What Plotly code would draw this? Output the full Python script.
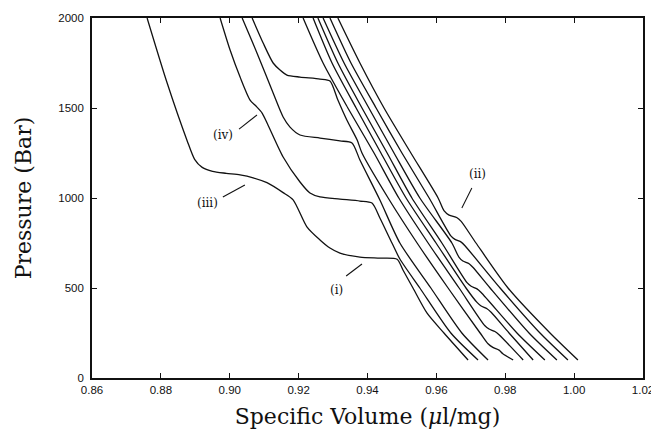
import plotly.graph_objects as go

# ---- data: isotherms, specific volume (ul/mg) vs pressure (bar) ----
v_c1 = [0.8760, 0.8818, 0.8876, 0.8898, 0.8920, 0.8950, 0.8990, 0.9030, 0.9068, 0.9108, 0.9155, 0.9184,
        0.9224, 0.9262, 0.9291, 0.9320, 0.9378, 0.9436, 0.9486, 0.9503, 0.9532, 0.9573, 0.9622, 0.9692]
p_c1 = [2000, 1640, 1320, 1215, 1170, 1148, 1137, 1128, 1112, 1085, 1030, 990,
        840, 767, 722, 694, 672, 666, 660, 600, 500, 360, 250, 100]

v_c2 = [0.8972, 0.9001, 0.9030, 0.9059, 0.9076, 0.9094, 0.9111, 0.9155, 0.9204, 0.9233, 0.9262,
        0.9320, 0.9378, 0.9413, 0.9436, 0.9471, 0.9494, 0.9552, 0.9642, 0.9721]
p_c2 = [2000, 1822, 1672, 1544, 1511, 1472, 1406, 1228, 1089, 1028, 1006,
        994, 983, 972, 889, 750, 661, 500, 250, 100]

v_c3 = [0.9036, 0.9079, 0.9126, 0.9155, 0.9175, 0.9204, 0.9262, 0.9320, 0.9355, 0.9378, 0.9436,
        0.9494, 0.9584, 0.9674, 0.9750]
p_c3 = [2000, 1806, 1583, 1450, 1394, 1350, 1333, 1317, 1306, 1211, 989,
        750, 500, 250, 100]

v_c4 = [0.9065, 0.9097, 0.9126, 0.9146, 0.9166, 0.9204, 0.9262, 0.9291, 0.9314, 0.9340, 0.9370,
        0.9384, 0.9460, 0.9544, 0.9634, 0.9727, 0.9750, 0.9764, 0.9782, 0.9793, 0.9823]
p_c4 = [2000, 1861, 1750, 1711, 1683, 1672, 1661, 1650, 1544, 1433, 1322,
        1250, 1000, 750, 500, 250, 190, 170, 155, 135, 100]

v_c5 = [0.9213, 0.9271, 0.9343, 0.9419, 0.9491, 0.9576, 0.9666, 0.9741, 0.9753, 0.9770, 0.9782, 0.9852]
p_c5 = [2000, 1750, 1500, 1250, 1000, 750, 500, 290, 272, 258, 240, 100]

v_c6 = [0.9242, 0.9297, 0.9367, 0.9439, 0.9512, 0.9599, 0.9686, 0.9718, 0.9730, 0.9747, 0.9759, 0.9811, 0.9881]
p_c6 = [2000, 1750, 1500, 1250, 1000, 750, 500, 420, 400, 385, 365, 250, 100]

v_c7 = [0.9256, 0.9314, 0.9384, 0.9457, 0.9529, 0.9616, 0.9689, 0.9701, 0.9718, 0.9730, 0.9834, 0.9915]
p_c7 = [2000, 1750, 1500, 1250, 1000, 750, 530, 510, 495, 475, 250, 100]

v_c8 = [0.9271, 0.9332, 0.9404, 0.9477, 0.9552, 0.9645, 0.9666, 0.9677, 0.9695, 0.9706, 0.9756, 0.9869, 0.9950]
p_c8 = [2000, 1750, 1500, 1250, 1000, 750, 670, 650, 635, 615, 500, 250, 100]

v_c9 = [0.9291, 0.9352, 0.9425, 0.9500, 0.9579, 0.9642, 0.9654, 0.9672, 0.9683, 0.9785, 0.9901, 0.9982]
p_c9 = [2000, 1750, 1500, 1250, 1000, 790, 770, 755, 735, 500, 250, 100]

v_c10 = [0.9314, 0.9378, 0.9448, 0.9526, 0.9605, 0.9622, 0.9637, 0.9660, 0.9672, 0.9715, 0.9808, 0.9930, 1.0011]
p_c10 = [2000, 1750, 1500, 1250, 1000, 930, 905, 890, 870, 750, 500, 250, 100]

x_ticks = [0.86, 0.88, 0.90, 0.92, 0.94, 0.96, 0.98, 1.00, 1.02]
y_ticks = [0, 500, 1000, 1500, 2000]

label_text = ["(i)", "(ii)", "(iii)", "(iv)"]
label_v = [0.9311, 0.9718, 0.8934, 0.8980]
label_p = [489, 1133, 972, 1350]
leader_v0 = [0.9338, 0.9703, 0.8980, 0.9027]
leader_p0 = [567, 1056, 1006, 1383]
leader_v1 = [0.9384, 0.9674, 0.9044, 0.9079]
leader_p1 = [633, 944, 1072, 1461]

curves = [(v_c1, p_c1), (v_c2, p_c2), (v_c3, p_c3), (v_c4, p_c4), (v_c5, p_c5),
          (v_c6, p_c6), (v_c7, p_c7), (v_c8, p_c8), (v_c9, p_c9), (v_c10, p_c10)]

fig = go.Figure()
for vx, py in curves:
    fig.add_trace(go.Scatter(x=vx, y=py, mode="lines",
                             line=dict(color="#111111", width=1.3, shape="spline", smoothing=0.7),
                             showlegend=False, hoverinfo="skip"))

for t, lv, lp in zip(label_text, label_v, label_p):
    fig.add_annotation(x=lv, y=lp, text=t, showarrow=False,
                       font=dict(family="DejaVu Serif", size=12, color="#111111"))
for a, b, c, d in zip(leader_v0, leader_p0, leader_v1, leader_p1):
    fig.add_shape(type="line", x0=a, y0=b, x1=c, y1=d, xref="x", yref="y",
                  line=dict(color="#111111", width=1.1))

axis_common = dict(showgrid=False, zeroline=False, showline=True, linecolor="#111111",
                   linewidth=1.6, mirror="ticks", ticks="inside", ticklen=5, tickwidth=1,
                   tickcolor="#111111", automargin=False,
                   tickfont=dict(family="Liberation Sans", size=11.5, color="#111111"))

fig.update_xaxes(range=[0.86, 1.02], tickvals=x_ticks,
                 ticktext=[f"{t:.2f}" for t in x_ticks],
                 title=dict(text="Specific Volume (<i>μ</i>l/mg)",
                            font=dict(family="DejaVu Serif", size=22, color="#111111"),
                            standoff=14),
                 **axis_common)
fig.update_yaxes(range=[0, 2000], tickvals=y_ticks, ticktext=[str(t) for t in y_ticks],
                 ticklabelstandoff=4,
                 title=dict(text="Pressure (Bar)",
                            font=dict(family="DejaVu Serif", size=22, color="#111111"),
                            standoff=21),
                 **axis_common)

# the page body has an 8px margin, so the figure is shrunk by that offset
fig.update_layout(width=651, height=429, margin=dict(l=84, r=16, t=10, b=59, autoexpand=False),
                  paper_bgcolor="white", plot_bgcolor="white")

fig.write_html("out.html")
